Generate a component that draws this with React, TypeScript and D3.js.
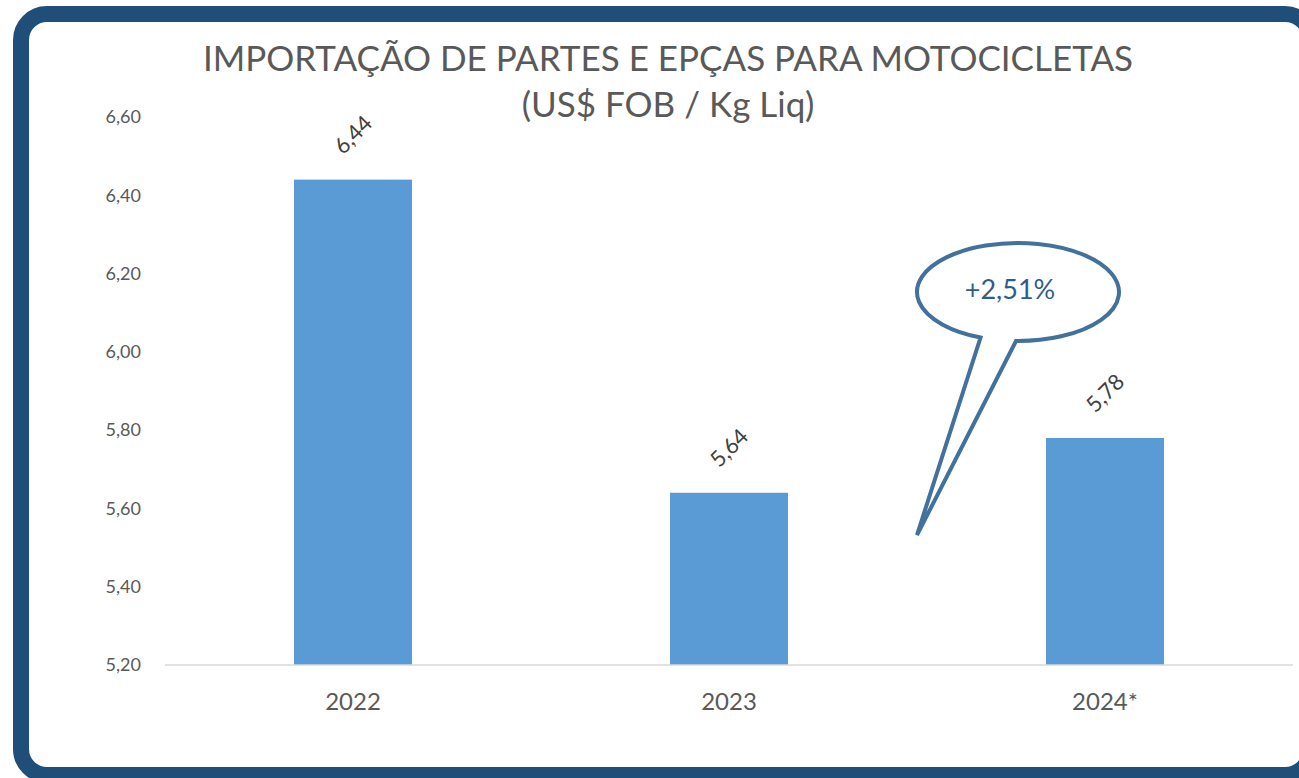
import React from 'react';
import * as d3 from 'd3';

// chart data
const categories = ['2022', '2023', '2024*'];
const values = [6.44, 5.64, 5.78];
const yTicks = [5.2, 5.4, 5.6, 5.8, 6.0, 6.2, 6.4, 6.6];
const titleLines = ['IMPORTAÇÃO DE PARTES E EPÇAS PARA MOTOCICLETAS', '(US$ FOB / Kg Liq)'];
const calloutText = '+2,51%';

const W = 1299;
const H = 778;
const FONT = 'Lato, "Open Sans", sans-serif';

const fmt = (v: number) => v.toFixed(2).replace('.', ',');

export default function App() {
  const margin = { top: 117, right: 6, bottom: 113, left: 165 };

  const x = d3.scaleBand()
    .domain(categories)
    .range([margin.left, W - margin.right])
    .paddingInner(0.686)
    .paddingOuter(0.343);

  const y = d3.scaleLinear()
    .domain([5.2, 6.6])
    .range([H - margin.bottom, margin.top]);

  const baseY = y(5.2);

  // callout bubble (annotation for the 2024 bar)
  const cx = 1018, cy = 292, rx = 101, ry = 49;
  const tip: [number, number] = [917, 535];
  const a1 = Math.PI / 2 + 0.38;
  const a2 = Math.PI / 2 + 0.02;
  const p1: [number, number] = [cx + rx * Math.cos(a1), cy + ry * Math.sin(a1)];
  const p2: [number, number] = [cx + rx * Math.cos(a2), cy + ry * Math.sin(a2)];
  const bubble = `M${p2[0]},${p2[1]} A${rx},${ry} 0 1 0 ${p1[0]},${p1[1]} L${tip[0]},${tip[1]} Z`;

  return (
    <svg width={W} height={H} style={{ position: 'absolute', left: 0, top: 0, background: '#fff' }}
      fontFamily={FONT}>
      {/* frame */}
      <rect x={21} y={14} width={1290} height={761} rx={26} ry={26}
        fill="#fff" stroke="#1f4e79" strokeWidth={16} />

      {/* title */}
      {titleLines.map((t, i) => (
        <text key={t} x={668} y={71 + i * 46} textAnchor="middle" fontSize={35} fill="#595959">{t}</text>
      ))}

      {/* y ticks */}
      {yTicks.map(t => (
        <text key={t} x={141} y={y(t)} dy="0.35em" textAnchor="end" fontSize={18} fill="#595959">{fmt(t)}</text>
      ))}

      {/* bars */}
      {categories.map((c, i) => (
        <rect key={c} x={x(c)!} y={y(values[i])} width={x.bandwidth()} height={baseY - y(values[i])} fill="#5b9bd5" />
      ))}

      {/* axis line */}
      <line x1={margin.left} x2={W - margin.right} y1={baseY} y2={baseY} stroke="#d9d9d9" strokeWidth={1.5} />

      {/* category labels */}
      {categories.map(c => (
        <text key={c} x={x(c)! + x.bandwidth() / 2} y={710} textAnchor="middle" fontSize={24} fill="#595959">{c}</text>
      ))}

      {/* data labels */}
      {categories.map((c, i) => {
        const lx = x(c)! + x.bandwidth() / 2;
        const ly = y(values[i]) - 45;
        return (
          <text key={c} transform={`translate(${lx},${ly}) rotate(-45)`} textAnchor="middle" dy="0.35em"
            fontSize={22} fill="#404040">{fmt(values[i])}</text>
        );
      })}

      {/* callout */}
      <path d={bubble} fill="#fff" stroke="#41719c" strokeWidth={4} strokeLinejoin="miter" />
      <text x={1010} y={290} dy="0.35em" textAnchor="middle" fontSize={27} fill="#2e5d8c">{calloutText}</text>
    </svg>
  );
}
